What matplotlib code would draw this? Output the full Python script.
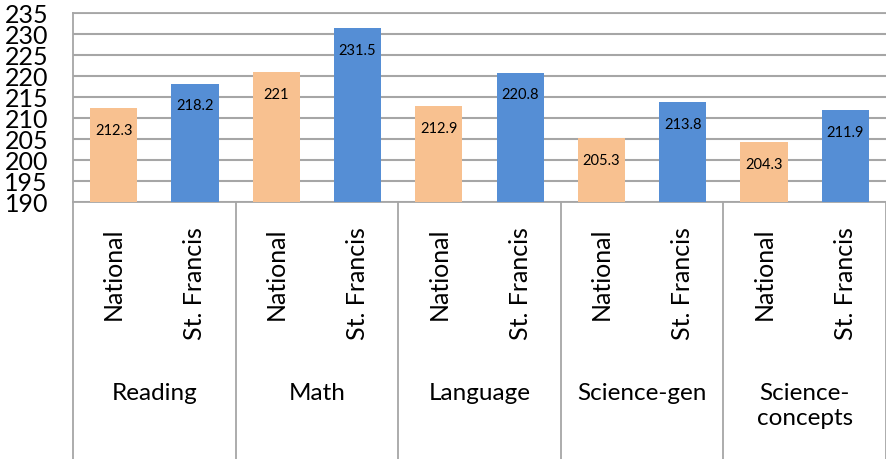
import matplotlib
matplotlib.use("Agg")
import matplotlib.pyplot as plt
import matplotlib.transforms as mtransforms

plt.rcParams['font.family'] = ['Lato', 'DejaVu Sans']

subjects = ['Reading', 'Math', 'Language', 'Science-gen', 'Science-\nconcepts']
series_names = ['National', 'St. Francis']
national = [212.3, 221, 212.9, 205.3, 204.3]
st_francis = [218.2, 231.5, 220.8, 213.8, 211.9]
colors = ['#F8C190', '#558ED5']
yticks = list(range(190, 236, 5))

W, H = 886, 460
fig = plt.figure(figsize=(W / 100, H / 100), dpi=100)
ax = fig.add_axes([73 / W, (H - 203) / H, (W - 73) / W, (203 - 14) / H])

bar_w = 0.29
for i in range(len(subjects)):
    for j, vals in enumerate([national, st_francis]):
        x = i + 0.25 + 0.5 * j
        v = vals[i]
        ax.bar(x, v - 190, bottom=190, width=bar_w, color=colors[j], zorder=3)
        ax.text(x, v - 5.2, '%g' % v, ha='center', va='center', fontsize=10.5, zorder=4)

ax.set_xlim(0, 5)
ax.set_ylim(190, 235)
ax.set_yticks(yticks)
ax.set_yticklabels([str(t) for t in yticks], fontsize=18)
ax.tick_params(axis='y', length=0, pad=18)
ax.set_xticks([])
ax.grid(axis='y', color='#A6A6A6', linewidth=1.5, zorder=0)
for s in ['top', 'left', 'bottom']:
    ax.spines[s].set_color('#A6A6A6')
    ax.spines[s].set_linewidth(1.3)
ax.spines['right'].set_visible(False)

# category axis below the plot
trans = mtransforms.blended_transform_factory(ax.transData, ax.transAxes)
axes_h_px = 203 - 14
def ay(ypix):
    return (203 - ypix) / axes_h_px

for i in range(len(subjects) + 1):
    ax.plot([i, i], [0, ay(460)], transform=trans, color='#A6A6A6', lw=1.3, clip_on=False)
for i, subj in enumerate(subjects):
    for j, name in enumerate(series_names):
        ax.text(i + 0.25 + 0.5 * j, ay(227), name, transform=trans, rotation=90,
                ha='center', va='top', fontsize=18)
    ax.text(i + 0.5, ay(383), subj, transform=trans, ha='center', va='top',
            fontsize=17.5, linespacing=1.25)

fig.savefig('out.png', dpi=100)
